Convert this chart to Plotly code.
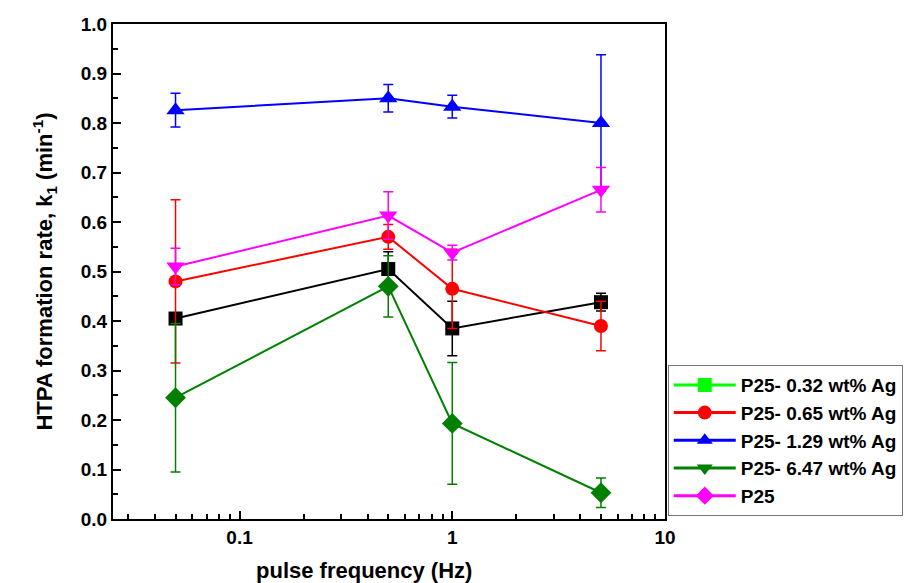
import plotly.graph_objects as go

freq = [0.05, 0.5, 1, 5]

series_names = ["P25- 0.32 wt% Ag", "P25- 0.65 wt% Ag", "P25- 1.29 wt% Ag", "P25- 6.47 wt% Ag", "P25"]

k_032 = [0.405, 0.505, 0.385, 0.438]
e_032 = [0.0, 0.035, 0.055, 0.018]
k_065 = [0.480, 0.570, 0.465, 0.390]
e_065 = [0.165, 0.025, 0.080, 0.050]
k_129 = [0.826, 0.850, 0.833, 0.800]
e_129 = [0.034, 0.028, 0.023, 0.138]
k_647 = [0.245, 0.470, 0.193, 0.053]
e_647 = [0.150, 0.062, 0.123, 0.030]
k_p25 = [0.510, 0.613, 0.538, 0.665]
e_p25 = [0.037, 0.048, 0.015, 0.045]

# styles as drawn in the plot area
plot_styles = [
    ("#000000", "square"),
    ("#ff0000", "circle"),
    ("#0000ff", "triangle-up"),
    ("#008000", "diamond"),
    ("#ff00ff", "triangle-down"),
]
# styles as drawn in the legend
legend_styles = [
    ("#00ff00", "square"),
    ("#ff0000", "circle"),
    ("#0000ff", "triangle-up"),
    ("#008000", "triangle-down"),
    ("#ff00ff", "diamond"),
]

vals = [k_032, k_065, k_129, k_647, k_p25]
errs = [e_032, e_065, e_129, e_647, e_p25]

FONT = "Arial, Liberation Sans, sans-serif"

fig = go.Figure()
for i, (v, e) in enumerate(zip(vals, errs)):
    c, s = plot_styles[i]
    fig.add_trace(go.Scatter(
        x=freq, y=v, mode="lines+markers",
        line=dict(color=c, width=2),
        marker=dict(color=c, symbol=s, size=14 if s in ("square", "circle") else 16),
        error_y=dict(type="data", array=e, visible=True, color=c, thickness=1.5, width=5),
        showlegend=False,
    ))

for i, name in enumerate(series_names):
    c, s = legend_styles[i]
    fig.add_trace(go.Scatter(
        x=[None], y=[None], mode="lines+markers", name=name,
        line=dict(color=c, width=3),
        marker=dict(color=c, symbol=s, size=14),
    ))

fig.update_layout(
    width=907, height=583,
    paper_bgcolor="white", plot_bgcolor="white",
    margin=dict(l=113, r=242, t=24, b=64, autoexpand=False),
    font=dict(family=FONT, color="black"),
    legend=dict(
        x=1.005, y=0.311, xanchor="left", yanchor="top",
        bgcolor="white", bordercolor="#777777", borderwidth=1,
        font=dict(size=19, family=FONT, color="black", weight="bold"),
        itemwidth=62,
    ),
    annotations=[dict(
        text="pulse frequency (Hz)", xref="paper", yref="paper",
        x=0.455, y=-0.105, xanchor="center", yanchor="middle", showarrow=False,
        font=dict(size=22, family=FONT, weight="bold", color="black"),
    )],
)

fig.update_xaxes(
    type="log", range=[-1.595, 1],
    tickvals=[0.1, 1, 10], ticktext=["0.1", "1", "10"],
    ticks="inside", ticklen=8, tickwidth=2, tickcolor="black",
    minor=dict(ticks="inside", ticklen=5, tickwidth=1.5, tickcolor="black", dtick="D1", showgrid=False),
    showline=True, linewidth=2, linecolor="black", mirror=True,
    showgrid=False, zeroline=False,
    tickfont=dict(family=FONT, size=19, color="black", weight="bold"),
)
fig.update_yaxes(
    range=[0, 1], dtick=0.1, tickformat=".1f",
    ticks="inside", ticklen=8, tickwidth=2, tickcolor="black",
    minor=dict(ticks="inside", ticklen=5, tickwidth=1.5, tickcolor="black", dtick=0.05, showgrid=False),
    showline=True, linewidth=2, linecolor="black", mirror=True,
    showgrid=False, zeroline=False,
    tickfont=dict(family=FONT, size=19, color="black", weight="bold"),
    title=dict(text="HTPA formation rate, k<sub>1</sub> (min<sup>-1</sup>)", font=dict(size=22, family=FONT, weight="bold"), standoff=22),
)

fig.write_html("out.html")
